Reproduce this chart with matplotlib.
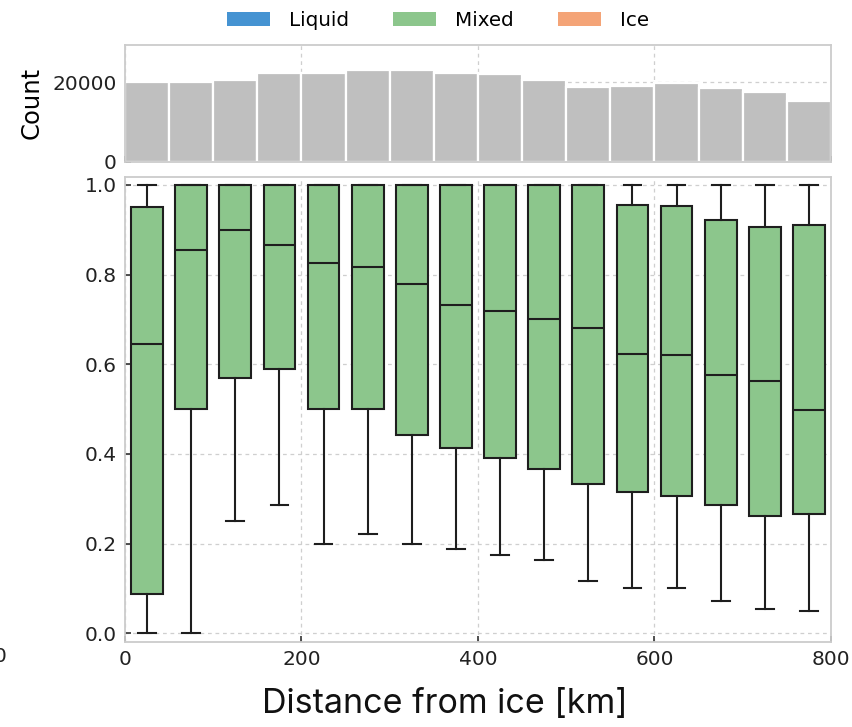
import matplotlib
matplotlib.use("Agg")
import matplotlib.pyplot as plt
from matplotlib.patches import Patch

# ---------------- data ----------------
bin_centers = [25, 75, 125, 175, 225, 275, 325, 375, 425, 475, 525, 575, 625, 675, 725, 775]
counts = [20000, 20000, 20660, 22300, 22380, 23030, 23110, 22300,
          21970, 20570, 18930, 19180, 19750, 18690, 17540, 15250]
medians = [0.645, 0.856, 0.899, 0.866, 0.825, 0.817, 0.778, 0.732,
           0.719, 0.701, 0.680, 0.623, 0.620, 0.577, 0.562, 0.498]
q1s = [0.087, 0.500, 0.569, 0.589, 0.500, 0.500, 0.443, 0.414,
       0.391, 0.367, 0.332, 0.314, 0.307, 0.285, 0.261, 0.266]
q3s = [0.951, 1.0, 1.0, 1.0, 1.0, 1.0, 1.0, 1.0,
       1.0, 1.0, 1.0, 0.956, 0.954, 0.922, 0.907, 0.910]
whis_lo = [0.0, 0.0, 0.250, 0.285, 0.200, 0.222, 0.200, 0.188,
           0.174, 0.163, 0.117, 0.100, 0.100, 0.071, 0.053, 0.050]
whis_hi = [1.0] * 16
legend_labels = ["Liquid", "Mixed", "Ice"]
legend_colors = ["#4593d2", "#8cc68c", "#f4a477"]
x_ticks = [0, 200, 400, 600, 800]
y_ticks = [0.0, 0.2, 0.4, 0.6, 0.8, 1.0]

# ---------------- style ----------------
plt.rcParams["font.family"] = ["DejaVu Sans"]
W, H = 853, 727
fig = plt.figure(figsize=(W / 100, H / 100), dpi=100)

L, R = 125, 831
ax_top = fig.add_axes([L / W, 1 - 161.7 / H, (R - L) / W, (161.7 - 45) / H])
ax = fig.add_axes([L / W, 1 - 641.7 / H, (R - L) / W, (641.7 - 176.7) / H])

spine_col = "#cccccc"
grid_kw = dict(color="#cfcfcf", linestyle=(0, (3, 3)), linewidth=0.9)
for a in (ax_top, ax):
    for s in a.spines.values():
        s.set_color(spine_col)
        s.set_linewidth(1.3)
    a.set_axisbelow(True)
    a.grid(True, **grid_kw)
    a.tick_params(direction="in", length=4, width=1.2, color="#333333",
                  labelsize=14.5, labelcolor="#222222", pad=6)
    a.set_xlim(0, 800)
    a.set_xticks(x_ticks)

# ---------------- top histogram ----------------
ax_top.bar(bin_centers, counts, width=50, color="#bfbfbf",
           edgecolor="white", linewidth=1.6, zorder=2)
ax_top.set_ylim(0, 29400)
ax_top.set_yticks([0, 20000])
ax_top.tick_params(axis="x", labelbottom=False)
ax_top.set_ylabel("Count", fontsize=17.5, labelpad=6)

# ---------------- boxplots ----------------
stats = []
for i in range(len(bin_centers)):
    stats.append(dict(med=medians[i], q1=q1s[i], q3=q3s[i],
                      whislo=whis_lo[i], whishi=whis_hi[i], fliers=[]))
edge = "#1e1e1e"
ax.bxp(stats, positions=bin_centers, widths=36, capwidths=20,
       showfliers=False, patch_artist=True, manage_ticks=False,
       boxprops=dict(facecolor="#8cc68c", edgecolor=edge, linewidth=1.5),
       medianprops=dict(color=edge, linewidth=1.5),
       whiskerprops=dict(color=edge, linewidth=1.5),
       capprops=dict(color=edge, linewidth=1.5))
ax.set_ylim(-0.019, 1.0185)
ax.set_yticks(y_ticks)
ax.set_yticklabels([f"{v:.1f}" for v in y_ticks])
ax.set_xticklabels([str(v) for v in x_ticks])

# ---------------- legend ----------------
handles = [Patch(facecolor=c, edgecolor="none", label=l)
           for l, c in zip(legend_labels, legend_colors)]
fig.legend(handles=handles, loc="center", bbox_to_anchor=(438 / W, 1 - 20 / H),
           ncol=3, frameon=False, fontsize=14.3, handlelength=2.15,
           handleheight=0.7, handletextpad=0.95, columnspacing=2.25)

# ---------------- x label and cut-off neighbour tick ----------------
fig.text(445 / W, 1 - 704 / H, "Distance from ice [km]", ha="center", va="center",
         fontsize=24.5, family=["Inter", "DejaVu Sans"], color="#111111")
fig.text(0.0, 1 - 657 / H, "0", ha="center", va="center", fontsize=14.5, color="#222222")

fig.savefig("out.png", dpi=100)
